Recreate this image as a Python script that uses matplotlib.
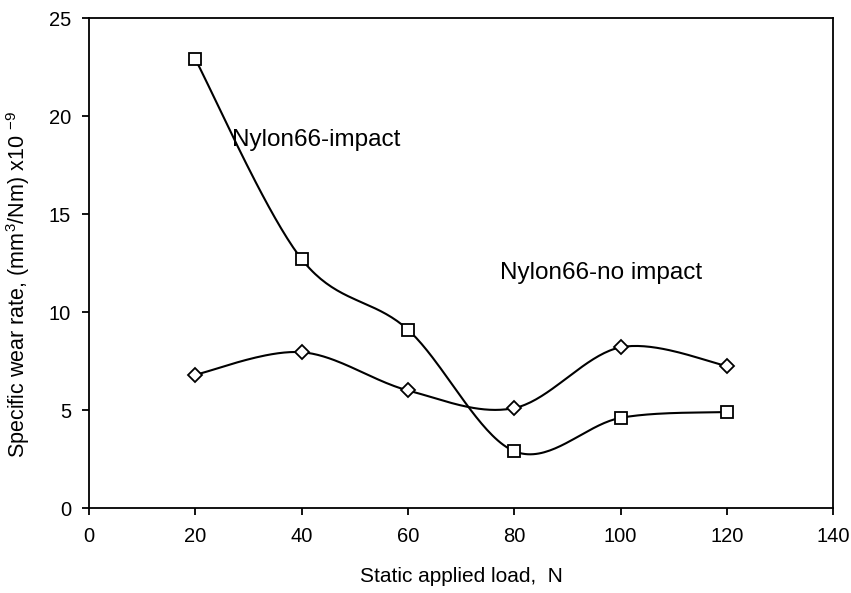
import numpy as np
import matplotlib.pyplot as plt

plt.rcParams['font.family'] = ['Liberation Sans', 'DejaVu Sans']

load = [20, 40, 60, 80, 100, 120]
wear_impact = [22.9, 12.7, 9.1, 2.9, 4.6, 4.9]
wear_no_impact = [6.8, 7.95, 6.0, 5.1, 8.2, 7.25]


def smooth(x, y, n=40):
    # Catmull-Rom style smoothing like the spreadsheet's smoothed line
    x = np.asarray(x, float)
    y = np.asarray(y, float)
    px = np.concatenate([[x[0]], x, [x[-1]]])
    py = np.concatenate([[y[0]], y, [y[-1]]])
    xs, ys = [], []
    t = np.linspace(0, 1, n)
    for i in range(1, len(px) - 2):
        p0, p1, p2, p3 = [np.array([px[k], py[k]]) for k in (i - 1, i, i + 1, i + 2)]
        c1 = p1 + (p2 - p0) / 6
        c2 = p2 - (p3 - p1) / 6
        b = ((1 - t) ** 3)[:, None] * p1 + (3 * (1 - t) ** 2 * t)[:, None] * c1 \
            + (3 * (1 - t) * t ** 2)[:, None] * c2 + (t ** 3)[:, None] * p2
        xs.extend(b[:, 0])
        ys.extend(b[:, 1])
    return xs, ys


fig = plt.figure(figsize=(8.51, 5.93), dpi=100)
ax = fig.add_axes([0.1046, 0.1433, 0.8744, 0.8263])

sx, sy = smooth(load, wear_impact)
ax.plot(sx, sy, color='black', lw=1.5)
ax.plot(load, wear_impact, ls='none', marker='s', ms=8, mfc='white', mec='black', mew=1.3)

sx, sy = smooth(load, wear_no_impact)
ax.plot(sx, sy, color='black', lw=1.5)
ax.plot(load, wear_no_impact, ls='none', marker='D', ms=7, mfc='white', mec='black', mew=1.3)

ax.text(26.9, 18.8, 'Nylon66-impact', fontsize=17.5, va='center', ha='left')
ax.text(77.3, 12.0, 'Nylon66-no impact', fontsize=17.5, va='center', ha='left')

ax.set_xlim(0, 140)
ax.set_ylim(0, 25)
ax.set_xticks(range(0, 141, 20))
ax.set_yticks(range(0, 26, 5))
ax.tick_params(direction='out', length=5, width=1.3, labelsize=14.5)
ax.tick_params(axis='x', pad=9)
ax.tick_params(axis='y', pad=8)
for s in ax.spines.values():
    s.set_linewidth(1.3)

ax.set_xlabel('Static applied load,  N', fontsize=15, labelpad=15)
ax.set_ylabel(r'Specific wear rate, (mm$\mathregular{^3}$/Nm) x10 $\mathregular{^{-9}}$',
              fontsize=15.5)
ax.yaxis.set_label_coords(-0.077, 0.457)

fig.savefig('out.png', dpi=100)
